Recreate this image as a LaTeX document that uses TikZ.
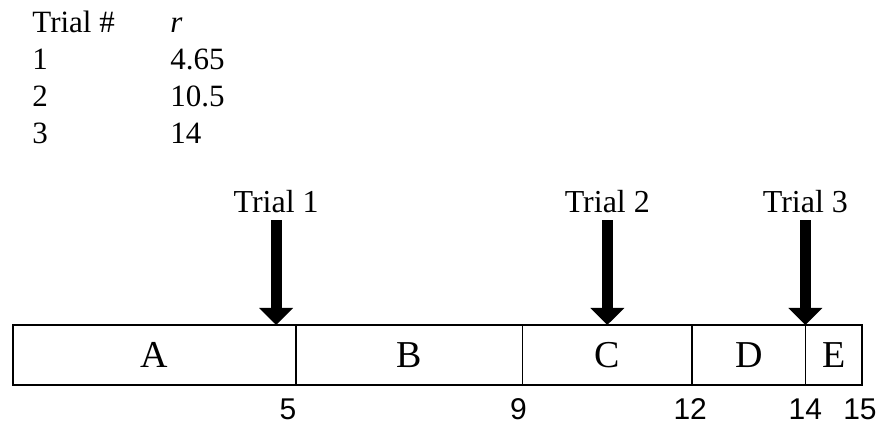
\documentclass[tikz,border=0pt]{standalone}
\usepackage{fontspec}
\setmainfont{Liberation Serif}
\newfontfamily\numfont{Liberation Sans}
\usetikzlibrary{arrows.meta}
\tikzset{
  seg/.style={draw, line width=0.75pt, inner sep=0pt, outer sep=0pt,
              minimum height=30pt, font=\fontsize{19pt}{22pt}\selectfont},
  trial/.style={anchor=base, font=\fontsize{16pt}{18pt}\selectfont},
  ticklabel/.style={anchor=base, font=\numfont\fontsize{15pt}{17pt}\selectfont},
  hit/.style={line width=5.5pt, -{Triangle[length=8.5pt, width=16.5pt]}},
}

\begin{document}
\begin{tikzpicture}[x=0.5pt, y=0.5pt]
  \useasboundingbox (0,0) rectangle (880,426);
  % table of trials
  \node[anchor=base west, inner sep=0pt] (table) at (32,393)
    {\fontsize{15.5pt}{18.5pt}\selectfont
     \begin{tabular}[t]{@{}p{57pt}l@{}}
       Trial \# & \textit{r}\\
       1 & 4.65\\
       2 & 10.5\\
       3 & 14
     \end{tabular}};
  % the bar, one unit of r per 28.3pt
  \begin{scope}[shift={(13,0)}, x=28.3pt]
    \foreach \lab/\a/\b in {A/0/5, B/5/9, C/9/12, D/12/14, E/14/15}
      \node[seg, minimum width=(\b-\a)*28.3pt] (\lab) at ({(\a+\b)/2},71) {\lab};
    \foreach \v/\dx in {5/-8, 9/-4, 12/-2, 14/0, 15/-2}
      \node[ticklabel, xshift=\dx*0.5pt] (n\v) at (\v,6) {\v};
    \foreach \t/\r in {1/4.65, 2/10.5, 3/14} {
      \node[trial] (t\t) at (\r,213) {Trial \t};
      \coordinate (hit\t) at (\r,101);
      \draw[hit] (t\t.south) -- (hit\t);
    }
  \end{scope}
\end{tikzpicture}
\end{document}
